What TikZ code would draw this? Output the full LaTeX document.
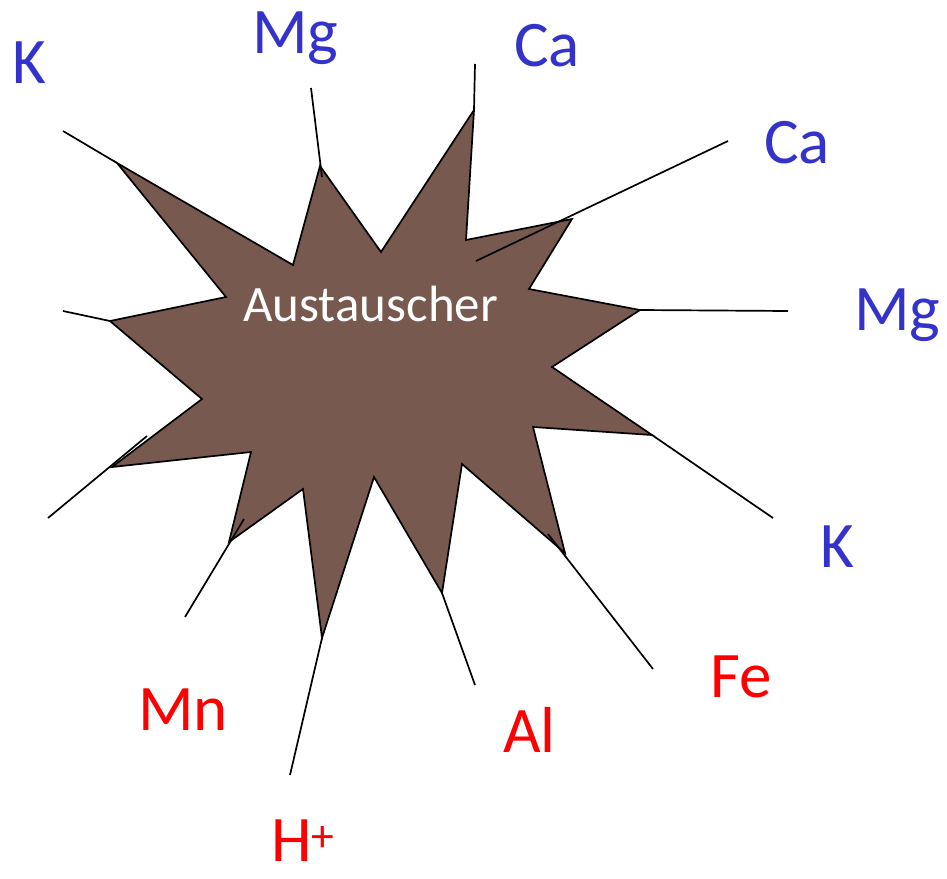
\documentclass[tikz,border=0pt]{standalone}
\usepackage{fontspec}
\setmainfont{Carlito}
\definecolor{starfill}{HTML}{77594F}
\definecolor{ionblue}{HTML}{3333CC}
\definecolor{ionred}{HTML}{FF0000}
\begin{document}
\begin{tikzpicture}[x=1pt,y=-1pt,
  ion/.style={anchor=base west,inner sep=0pt,font=\fontsize{65}{65}\selectfont},
  base/.style={ion,text=ionblue},
  acid/.style={ion,text=ionred},
  bond/.style={draw=black,line width=1.7pt},
  starshape/.style={fill=starfill,draw=black,line width=1.7pt,line join=miter}]
\useasboundingbox (0,0) rectangle (947,878);
% star vertices
\coordinate (v1) at (117,163);
\coordinate (v2) at (293,265);
\coordinate (v3) at (320,166);
\coordinate (v4) at (381,252);
\coordinate (v5) at (474,110);
\coordinate (v6) at (466,240);
\coordinate (v7) at (572,219);
\coordinate (v8) at (529,289);
\coordinate (v9) at (640,310);
\coordinate (v10) at (552,367);
\coordinate (v11) at (652,435);
\coordinate (v12) at (533,427);
\coordinate (v13) at (565,553);
\coordinate (v14) at (462,464);
\coordinate (v15) at (442,593);
\coordinate (v16) at (374,477);
\coordinate (v17) at (322,638);
\coordinate (v18) at (303,489);
\coordinate (v19) at (229,542);
\coordinate (v20) at (251,452);
\coordinate (v21) at (112,467);
\coordinate (v22) at (202,399);
\coordinate (v23) at (110,321);
\coordinate (v24) at (226,297);
\path[starshape] (v1)--(v2)--(v3)--(v4)--(v5)--(v6)--(v7)--(v8)--(v9)--(v10)--(v11)--(v12)--(v13)--(v14)--(v15)--(v16)--(v17)--(v18)--(v19)--(v20)--(v21)--(v22)--(v23)--(v24)--cycle;
\node[anchor=base west,inner sep=0pt,text=white,font=\fontsize{51}{51}\selectfont] (ex) at (243,321) {Austauscher};
% bond end points
\coordinate (a1) at (63,131);
\coordinate (a2) at (311,88);   \coordinate (b2) at (322,177);
\coordinate (a3) at (475,64);
\coordinate (a4) at (728,141);  \coordinate (b4) at (476,261);
\coordinate (a5) at (788,311);
\coordinate (a6) at (773,518);
\coordinate (a7) at (653,669);  \coordinate (b7) at (548,534);
\coordinate (a8) at (475,685);
\coordinate (a9) at (290,775);
\coordinate (a10) at (185,617); \coordinate (b10) at (244,519);
\coordinate (a11) at (48,518);  \coordinate (b11) at (147,436);
\coordinate (a12) at (63,311);
\draw[bond] (a1) -- (v1);
\draw[bond] (a2) -- (b2);
\draw[bond] (a3) -- (v5);
\draw[bond] (a4) -- (b4);
\draw[bond] (v9) -- (a5);
\draw[bond] (v11) -- (a6);
\draw[bond] (b7) -- (a7);
\draw[bond] (v15) -- (a8);
\draw[bond] (v17) -- (a9);
\draw[bond] (b10) -- (a10);
\draw[bond] (b11) -- (a11);
\draw[bond] (a12) -- (v23);
% labels
\node[base] (k1) at (12,83) {K};
\node[base] (mg1) at (252,53) {Mg};
\node[base] (ca1) at (514,66) {Ca};
\node[base] (ca2) at (764,163) {Ca};
\node[base] (mg2) at (854,330) {Mg};
\node[base] (k2) at (820,567) {K};
\node[acid] (fe) at (710,697) {Fe};
\node[acid] (al) at (503,752) {Al};
\node[acid] (mn) at (138,730) {Mn};
\node[acid] (h) at (271,861) {H\textsuperscript{+}};
\end{tikzpicture}
\end{document}
